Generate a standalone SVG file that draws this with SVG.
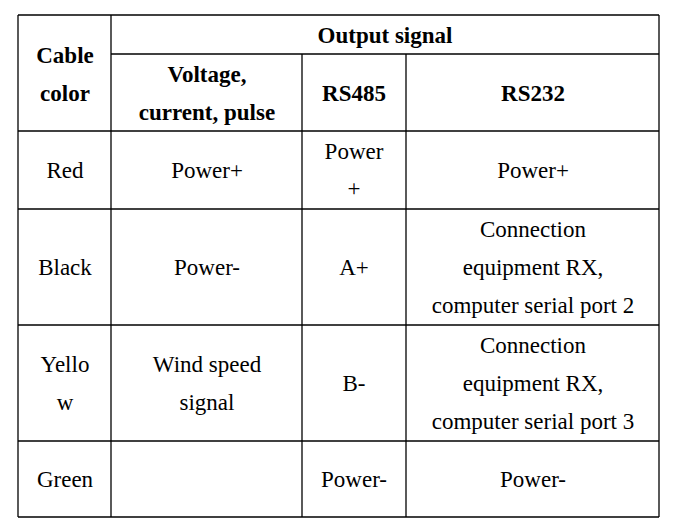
<svg xmlns="http://www.w3.org/2000/svg" width="680" height="522" viewBox="0 0 680 522">
<style>
line{stroke:#000;stroke-width:1.3}
text{font-family:"Liberation Serif","Times New Roman","DejaVu Serif",serif;font-size:23px;text-anchor:middle;fill:#000}
.b{font-weight:bold}
</style>
<rect width="680" height="522" fill="#fff"/>
<g id="grid">
<line x1="18" y1="15" x2="659" y2="15"/>
<line x1="111" y1="54" x2="659" y2="54"/>
<line x1="18" y1="131" x2="659" y2="131"/>
<line x1="18" y1="209" x2="659" y2="209"/>
<line x1="18" y1="325" x2="659" y2="325"/>
<line x1="18" y1="441" x2="659" y2="441"/>
<line x1="18" y1="517" x2="659" y2="517"/>
<line x1="18" y1="15" x2="18" y2="517"/>
<line x1="111" y1="15" x2="111" y2="517"/>
<line x1="302" y1="54" x2="302" y2="517"/>
<line x1="406" y1="54" x2="406" y2="517"/>
<line x1="659" y1="15" x2="659" y2="517"/>
</g>
<g id="header">
<text class="b" x="65" y="63">Cable</text>
<text class="b" x="65" y="101">color</text>
<text class="b" x="385" y="43">Output signal</text>
<text class="b" x="207" y="82">Voltage,</text>
<text class="b" x="207" y="120">current, pulse</text>
<text class="b" x="354" y="101">RS485</text>
<text class="b" x="533" y="101">RS232</text>
</g>
<g id="row-red">
<text x="65" y="178">Red</text>
<text x="207" y="178">Power+</text>
<text x="354" y="159">Power</text>
<text x="354" y="196">+</text>
<text x="533" y="178">Power+</text>
</g>
<g id="row-black">
<text x="65" y="275">Black</text>
<text x="207" y="275">Power-</text>
<text x="354" y="275">A+</text>
<text x="533" y="237">Connection</text>
<text x="533" y="275">equipment RX,</text>
<text x="533" y="313">computer serial port 2</text>
</g>
<g id="row-yellow">
<text x="65" y="372">Yello</text>
<text x="65" y="410">w</text>
<text x="207" y="372">Wind speed</text>
<text x="207" y="410">signal</text>
<text x="354" y="391">B-</text>
<text x="533" y="353">Connection</text>
<text x="533" y="391">equipment RX,</text>
<text x="533" y="429">computer serial port 3</text>
</g>
<g id="row-green">
<text x="65" y="487">Green</text>
<text x="354" y="487">Power-</text>
<text x="533" y="487">Power-</text>
</g>
</svg>
